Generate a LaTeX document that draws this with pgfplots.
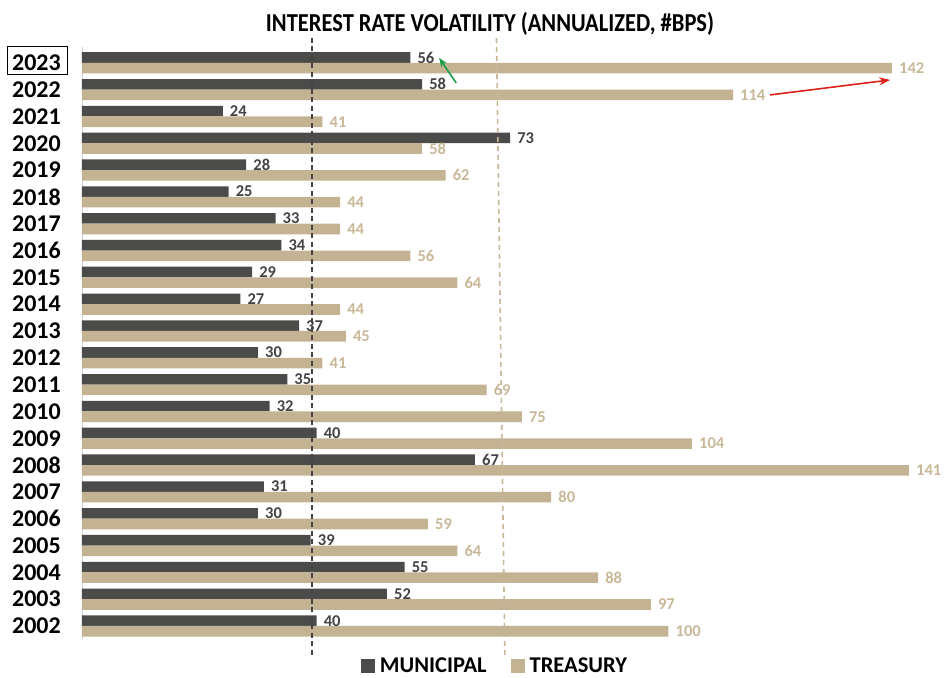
\documentclass[border=0pt]{standalone}
\usepackage{pgfplots}
\pgfplotsset{compat=1.18}
\usepackage{fontspec}
\setmainfont{Carlito}
\usetikzlibrary{arrows.meta}

\definecolor{muni}{HTML}{4B4B49}
\definecolor{treas}{HTML}{C4B392}
\definecolor{munilab}{HTML}{434343}
\definecolor{treaslab}{HTML}{C8B898}
\definecolor{avgtan}{HTML}{C9B79A}
\definecolor{arrgreen}{HTML}{1E9E4A}
\definecolor{arrred}{HTML}{E0201B}

\begin{document}
\begin{tikzpicture}
\begin{axis}[
    name=ax,
    xbar,
    bar width=10.6pt,
    scale only axis,
    width=850.4pt, height=592.7pt,
    xmin=0, xmax=145,
    ymin=2001.5, ymax=2023.6,
    axis x line=none,
    axis y line*=left,
    y axis line style={draw=black!18, line width=0.8pt, -},
    ytick={2002,2003,2004,2005,2006,2007,2008,2009,2010,2011,2012,2013,2014,2015,2016,2017,2018,2019,2020,2021,2022,2023},
    yticklabels={2002,2003,2004,2005,2006,2007,2008,2009,2010,2011,2012,2013,2014,2015,2016,2017,2018,2019,2020,2021,2022,2023},
    major tick length=0pt,
    yticklabel style={font=\fontsize{24}{24}\selectfont\bfseries, anchor=east, inner sep=0pt, xshift=-21pt},
    clip=false,
    nodes near coords,
    every node near coord/.append style={font=\fontsize{16.5}{16.5}\selectfont\bfseries, anchor=west, inner sep=0pt, xshift=7pt},
    legend columns=2,
    legend style={at={(axis description cs:0.4845,-0.0455)}, anchor=center,
        draw=none, fill=none, inner sep=0pt,
        font=\fontsize{22.5}{22.5}\selectfont\bfseries,
        nodes={inner sep=0pt},
        /tikz/every odd column/.append style={column sep=5pt},
        /tikz/every even column/.append style={column sep=24pt}},
    legend image code/.code={\fill[#1] (0pt,-7pt) rectangle (14pt,7pt);},
]
% municipal
\addplot[fill=muni, draw=none, bar shift=5.3pt, point meta=explicit symbolic,
    every node near coord/.append style={color=munilab}] coordinates {
    (56,2023) [56] (58,2022) [58] (24,2021) [24] (73,2020) [73]
    (28,2019) [28] (25,2018) [25] (33,2017) [33] (34,2016) [34]
    (29,2015) [29] (27,2014) [27] (37,2013) [37] (30,2012) [30]
    (35,2011) [35] (32,2010) [32] (40,2009) [40] (67,2008) [67]
    (31,2007) [31] (30,2006) [30] (39,2005) [39] (55,2004) [55]
    (52,2003) [52] (40,2002) [40]
};
\addlegendentry{MUNICIPAL}
% treasury
\addplot[fill=treas, draw=none, bar shift=-5.3pt, point meta=explicit symbolic,
    every node near coord/.append style={color=treaslab}] coordinates {
    (138.1,2023) [142] (111,2022) [114] (41,2021) [41] (58,2020) [58]
    (62,2019) [62] (44,2018) [44] (44,2017) [44] (56,2016) [56]
    (64,2015) [64] (44,2014) [44] (45,2013) [45] (41,2012) [41]
    (69,2011) [69] (75,2010) [75] (104,2009) [104] (141,2008) [141]
    (80,2007) [80] (59,2006) [59] (64,2005) [64] (88,2004) [88]
    (97,2003) [97] (100,2002) [100]
};
\addlegendentry{TREASURY}

% average lines
\draw[munilab, line width=1.6pt, dash pattern=on 5pt off 3.5pt]
    (axis cs:39.2,2000.92) -- (axis cs:39.2,2024.04);
\draw[avgtan, line width=1.6pt, dash pattern=on 5pt off 4pt]
    (axis cs:72.1,2000.92) -- (axis cs:70.67,2023.97);

% annotation arrows
\draw[arrgreen, line width=1.6pt, -{Stealth[length=9pt,width=7pt]}]
    (axis cs:63.8,2022.25) -- (axis cs:60.9,2023.18);
\draw[arrred, line width=1.6pt, -{Stealth[length=11pt,width=8pt]}]
    (axis cs:117.3,2021.8) -- (axis cs:137.8,2022.36);
\end{axis}

\node[font=\fontsize{22.5}{22.5}\selectfont\bfseries, inner sep=0pt]
    at ([shift={(408pt,616pt)}]ax.south west)
    {\scalebox{1}[1.15]{INTEREST RATE VOLATILITY (ANNUALIZED, \#BPS)}};
\node[draw=black, line width=1pt, minimum width=59pt, minimum height=28pt, inner sep=0pt]
    at ([shift={(-44.5pt,578.4pt)}]ax.south west) {};

\pgfresetboundingbox
\path[use as bounding box] ([shift={(-82pt,-37.6pt)}]ax.south west)
    rectangle ([shift={(865pt,639.4pt)}]ax.south west);
\end{tikzpicture}
\end{document}
